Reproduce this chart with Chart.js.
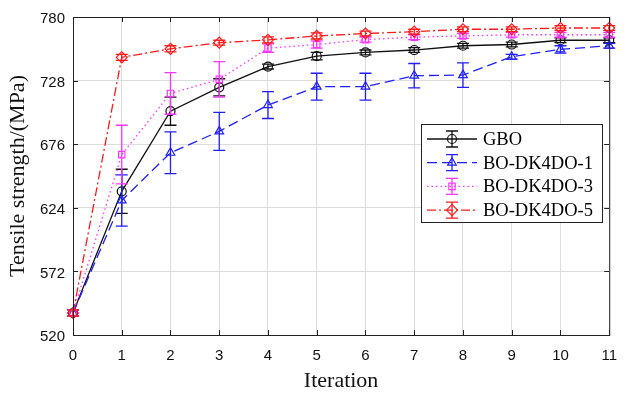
<!DOCTYPE html>
<html>
<head>
<meta charset="utf-8">
<script src="https://cdn.jsdelivr.net/npm/chart.js@4/dist/chart.umd.min.js"></script>
<style>
html,body{margin:0;padding:0;background:#fff;}
#wrap{width:629px;height:394px;position:relative;}
</style>
</head>
<body>
<div id="wrap"><canvas id="c" width="629" height="394"></canvas></div>
<script>
// ---- data ----
const iterations = [0,1,2,3,4,5,6,7,8,9,10,11];
const yTickValues = [520,572,624,676,728,780];
const seriesNames = ['GBO','BO-DK4DO-1','BO-DK4DO-3','BO-DK4DO-5'];

const gbo    = [538, 637.5, 703, 722.5, 739.5, 748, 751, 753, 756.5, 757.5, 761, 761];
const gboErr = [2.5, 18, 11.5, 7, 2, 3, 2, 2, 2, 2, 2, 2];

const dk1    = [538, 630, 669, 686.5, 708, 723, 723, 732, 732.5, 747.5, 753.5, 756.5];
const dk1Err = [2.5, 21, 17, 15.5, 11, 11, 11, 10, 10, 2, 3, 2];

const dk3    = [538, 667.5, 717.5, 729, 754.5, 757.5, 761.5, 763.5, 764.5, 765.5, 765.5, 765.5];
const dk3Err = [2.5, 24, 17, 14.5, 3.5, 3, 2, 2, 2, 2, 2, 2];

const dk5    = [538, 747, 754, 759, 761.3, 764.5, 766.5, 768, 770, 770, 771, 771];
const dk5Err = [2.5, 2.5, 2.5, 2, 2.5, 2.5, 2, 2, 2, 2, 2, 2];

function pts(vals){ return iterations.map((x,i)=>({x:x, y:vals[i]})); }

const SERIF = '"Liberation Serif","Times New Roman",serif';
const SANS = '"Liberation Sans",Arial,sans-serif';

function mkDs(label, vals, errs, color, dash, style, radius, order){
  return {
    label, data: pts(vals), errors: errs,
    borderColor: color, backgroundColor: 'rgba(255,255,255,0)',
    borderWidth: 1.3, borderDash: dash,
    pointStyle: style, pointRadius: radius, pointBorderWidth: 1.2,
    pointBorderColor: color, pointBackgroundColor: 'rgba(255,255,255,0)',
    tension: 0, order: order, clip: 8
  };
}

const datasets = [
  mkDs(seriesNames[0], gbo, gboErr, '#111111', [], 'circle', 4.5, 4),
  mkDs(seriesNames[1], dk1, dk1Err, '#1f1fff', [10,5], 'triangle', 5, 3),
  mkDs(seriesNames[2], dk3, dk3Err, '#ff33ff', [1.5,3], 'rect', 4.5, 2),
  mkDs(seriesNames[3], dk5, dk5Err, '#ff1a1a', [9,3,2,3], 'rectRot', 5.5, 1)
];

const errorBars = {
  id: 'errorBars',
  afterDatasetDraw(chart, args){
    const ds = chart.data.datasets[args.index];
    const meta = args.meta;
    const ys = chart.scales.y;
    const ctx = chart.ctx;
    ctx.save();
    ctx.strokeStyle = ds.borderColor;
    ctx.lineWidth = 1.3;
    ctx.setLineDash([]);
    const cap = 6;
    meta.data.forEach((el,i)=>{
      const v = ds.data[i].y, e = ds.errors[i];
      const t = ys.getPixelForValue(v+e), b = ys.getPixelForValue(v-e);
      const x = el.x;
      ctx.beginPath();
      ctx.moveTo(x,t); ctx.lineTo(x,b);
      ctx.moveTo(x-cap,t); ctx.lineTo(x+cap,t);
      ctx.moveTo(x-cap,b); ctx.lineTo(x+cap,b);
      ctx.stroke();
    });
    ctx.restore();
  }
};

const frame = {
  id: 'frame',
  afterDatasetsDraw(chart){
    const {ctx, chartArea:a, scales} = chart;
    ctx.save();
    ctx.strokeStyle = '#222';
    ctx.lineWidth = 1;
    ctx.setLineDash([]);
    ctx.strokeRect(a.left+0.5, a.top+0.5, a.right-a.left, a.bottom-a.top);
    const tl = 5;
    ctx.beginPath();
    scales.x.ticks.forEach(t=>{
      const x = Math.round(scales.x.getPixelForValue(t.value))+0.5;
      ctx.moveTo(x,a.bottom); ctx.lineTo(x,a.bottom-tl);
      ctx.moveTo(x,a.top); ctx.lineTo(x,a.top+tl);
    });
    scales.y.ticks.forEach(t=>{
      const y = Math.round(scales.y.getPixelForValue(t.value))+0.5;
      ctx.moveTo(a.left,y); ctx.lineTo(a.left+tl,y);
      ctx.moveTo(a.right,y); ctx.lineTo(a.right-tl,y);
    });
    ctx.stroke();
    ctx.restore();
  }
};

const legendBox = {
  id: 'legendBox',
  afterDraw(chart){
    const ctx = chart.ctx;
    const bx = 421, by = 124, bw = 181, bh = 98;
    ctx.save();
    ctx.fillStyle = '#fff';
    ctx.fillRect(bx,by,bw,bh);
    ctx.strokeStyle = '#222';
    ctx.lineWidth = 1;
    ctx.strokeRect(bx+0.5,by+0.5,bw,bh);
    chart.data.datasets.forEach((ds,i)=>{
      const y = 139 + i*23.7;
      ctx.strokeStyle = ds.borderColor;
      ctx.lineWidth = 1.3;
      ctx.setLineDash(ds.borderDash);
      ctx.beginPath(); ctx.moveTo(427,y); ctx.lineTo(477,y); ctx.stroke();
      ctx.setLineDash([]);
      const cx = 452;
      ctx.beginPath();
      ctx.moveTo(cx,y-8); ctx.lineTo(cx,y+8);
      ctx.moveTo(cx-6,y-8); ctx.lineTo(cx+6,y-8);
      ctx.moveTo(cx-6,y+8); ctx.lineTo(cx+6,y+8);
      ctx.stroke();
      ctx.lineWidth = 1.2;
      ctx.fillStyle = 'rgba(255,255,255,0)';
      Chart.helpers.drawPoint(ctx, {pointStyle: ds.pointStyle, radius: ds.pointRadius, rotation: 0, borderWidth: 1.2}, cx, y);
      ctx.fillStyle = '#000';
      ctx.font = '18.5px ' + SERIF;
      ctx.textBaseline = 'middle';
      ctx.textAlign = 'left';
      ctx.fillText(ds.label, 483, y+1);
    });
    ctx.restore();
  }
};

new Chart(document.getElementById('c'), {
  type: 'line',
  data: { datasets },
  options: {
    responsive: false,
    animation: false,
    events: [],
    layout: { padding: { top: 15, right: 7, left: 0, bottom: 0 } },
    plugins: { legend: { display: false }, tooltip: { enabled: false } },
    scales: {
      x: {
        type: 'linear', min: 0, max: 11,
        ticks: { stepSize: 1, color: '#111', font: { family: SANS, size: 15 }, padding: 12, maxRotation: 0, autoSkip: false },
        grid: { color: '#dcdcdc', lineWidth: 1, drawTicks: false },
        border: { display: false },
        title: { display: true, text: 'Iteration', color: '#111', font: { family: SERIF, size: 22, lineHeight: 1.2 }, padding: { top: 0, bottom: 0 } },
        afterFit(s){ s.height = 59; }
      },
      y: {
        min: 520, max: 780,
        afterBuildTicks(s){ s.ticks = yTickValues.map(v=>({value:v})); },
        ticks: { color: '#111', font: { family: SANS, size: 15 }, padding: 8, labelOffset: 2 },
        grid: { color: '#dcdcdc', lineWidth: 1, drawTicks: false },
        border: { display: false },
        title: { display: true, text: 'Tensile strength/(MPa)', color: '#111', font: { family: SERIF, size: 22, lineHeight: 1.2 }, padding: { top: 5, bottom: 0 } },
        afterFit(s){ s.width = 73; }
      }
    }
  },
  plugins: [errorBars, frame, legendBox]
});
</script>
</body>
</html>
